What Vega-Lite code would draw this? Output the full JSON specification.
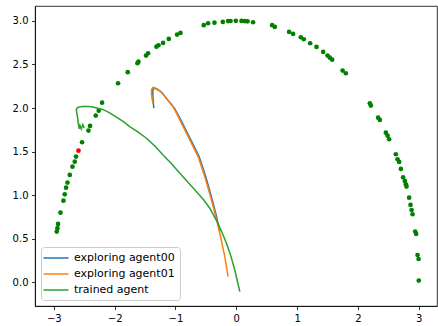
{
  "$schema": "https://vega.github.io/schema/vega-lite/v6.json",
  "width": 402,
  "height": 300,
  "autosize": {"type": "none"},
  "padding": {"left": 35, "top": 6, "right": 1, "bottom": 20},
  "background": "white",
  "config": {
    "view": {"stroke": "black", "strokeWidth": 0.8},
    "font": "DejaVu Sans",
    "axis": {
      "grid": false,
      "domainColor": "black",
      "domainWidth": 0.8,
      "tickColor": "black",
      "tickWidth": 0.8,
      "tickSize": 3.5,
      "labelFont": "DejaVu Sans",
      "labelFontSize": 10,
      "labelColor": "black",
      "labelPadding": 3.5,
      "title": null
    },
    "legend": {
      "orient": "bottom-left",
      "offset": 6,
      "title": null,
      "strokeColor": "#cccccc",
      "fillColor": "rgba(255,255,255,0.8)",
      "cornerRadius": 3,
      "padding": 5,
      "rowPadding": 5,
      "labelFont": "DejaVu Sans",
      "labelFontSize": 11,
      "labelColor": "black",
      "symbolType": "M-2.5,0H2.5",
      "symbolSize": 100,
      "symbolStrokeWidth": 1.5,
      "symbolOffset": 4,
      "labelOffset": 12
    }
  },
  "layer": [
    {
      "data": {"values": [
        {"x": -2.207, "y": 2.062}, {"x": -2.262, "y": 1.970}, {"x": -2.311, "y": 1.913},
        {"x": -2.405, "y": 1.795}, {"x": -2.431, "y": 1.741}, {"x": -2.536, "y": 1.608},
        {"x": -2.635, "y": 1.443}, {"x": -2.656, "y": 1.385}, {"x": -2.694, "y": 1.328},
        {"x": -2.738, "y": 1.233}, {"x": -2.776, "y": 1.145}, {"x": -2.799, "y": 1.087},
        {"x": -2.821, "y": 1.011}, {"x": -2.842, "y": 0.938}, {"x": -2.891, "y": 0.800},
        {"x": -2.931, "y": 0.671}, {"x": -2.941, "y": 0.622}, {"x": -2.952, "y": 0.583},
        {"x": -1.944, "y": 2.284}, {"x": -1.785, "y": 2.411}, {"x": -1.625, "y": 2.514},
        {"x": -1.609, "y": 2.532}, {"x": -1.484, "y": 2.601}, {"x": -1.451, "y": 2.628},
        {"x": -1.313, "y": 2.704}, {"x": -1.280, "y": 2.720}, {"x": -1.204, "y": 2.747},
        {"x": -1.110, "y": 2.792}, {"x": -0.974, "y": 2.842}, {"x": -0.918, "y": 2.861},
        {"x": -0.535, "y": 2.950}, {"x": -0.464, "y": 2.972}, {"x": -0.359, "y": 2.979},
        {"x": -0.222, "y": 2.987}, {"x": -0.135, "y": 2.997}, {"x": -0.095, "y": 2.998},
        {"x": -0.008, "y": 3.000}, {"x": 0.086, "y": 2.999}, {"x": 0.140, "y": 2.997},
        {"x": 0.184, "y": 2.994}, {"x": 0.276, "y": 2.984}, {"x": 0.589, "y": 2.950},
        {"x": 0.633, "y": 2.930}, {"x": 0.868, "y": 2.873}, {"x": 0.934, "y": 2.850},
        {"x": 1.061, "y": 2.812}, {"x": 1.110, "y": 2.789}, {"x": 1.214, "y": 2.743},
        {"x": 1.319, "y": 2.701}, {"x": 1.428, "y": 2.643}, {"x": 1.500, "y": 2.601},
        {"x": 1.538, "y": 2.578}, {"x": 1.576, "y": 2.555}, {"x": 1.748, "y": 2.429},
        {"x": 1.801, "y": 2.399}, {"x": 2.196, "y": 2.055}, {"x": 2.212, "y": 2.028},
        {"x": 2.332, "y": 1.890}, {"x": 2.360, "y": 1.864}, {"x": 2.459, "y": 1.718},
        {"x": 2.487, "y": 1.683}, {"x": 2.513, "y": 1.642}, {"x": 2.623, "y": 1.470},
        {"x": 2.651, "y": 1.413}, {"x": 2.678, "y": 1.382}, {"x": 2.706, "y": 1.302},
        {"x": 2.743, "y": 1.206}, {"x": 2.771, "y": 1.164}, {"x": 2.788, "y": 1.126},
        {"x": 2.799, "y": 1.099}, {"x": 2.842, "y": 0.972}, {"x": 2.865, "y": 0.889},
        {"x": 2.882, "y": 0.831}, {"x": 2.898, "y": 0.782}, {"x": 2.941, "y": 0.583},
        {"x": 2.957, "y": 0.556}, {"x": 2.980, "y": 0.315}, {"x": 2.997, "y": 0.269},
        {"x": 3.000, "y": 0.021}
      ]},
      "mark": {"type": "point", "filled": true, "opacity": 1, "size": 22, "color": "green"},
      "encoding": {
        "x": {"field": "x", "type": "quantitative", "scale": {"domain": [-3.31, 3.30], "nice": false, "zero": false}, "axis": {"values": [-3, -2, -1, 0, 1, 2, 3], "format": "d"}},
        "y": {"field": "y", "type": "quantitative", "scale": {"domain": [-0.27, 3.17], "nice": false, "zero": false}, "axis": {"values": [0, 0.5, 1, 1.5, 2, 2.5, 3], "format": ".1f"}}
      }
    },
    {
      "data": {"values": [{"x": -2.595, "y": 1.511}]},
      "mark": {"type": "point", "filled": true, "opacity": 1, "size": 22, "color": "red"},
      "encoding": {
        "x": {"field": "x", "type": "quantitative"},
        "y": {"field": "y", "type": "quantitative"}
      }
    },
    {
      "data": {"values": [
        {"s": "exploring agent00", "i": 0, "x": -1.357, "y": 1.998},
        {"s": "exploring agent00", "i": 1, "x": -1.365, "y": 2.070},
        {"s": "exploring agent00", "i": 2, "x": -1.373, "y": 2.150},
        {"s": "exploring agent00", "i": 3, "x": -1.373, "y": 2.208},
        {"s": "exploring agent00", "i": 4, "x": -1.340, "y": 2.231},
        {"s": "exploring agent00", "i": 5, "x": -1.291, "y": 2.213},
        {"s": "exploring agent00", "i": 6, "x": -1.225, "y": 2.179},
        {"s": "exploring agent00", "i": 7, "x": -1.127, "y": 2.093},
        {"s": "exploring agent00", "i": 8, "x": -1.020, "y": 2.001},
        {"s": "exploring agent00", "i": 9, "x": -0.913, "y": 1.864},
        {"s": "exploring agent00", "i": 10, "x": -0.831, "y": 1.749},
        {"s": "exploring agent00", "i": 11, "x": -0.748, "y": 1.634},
        {"s": "exploring agent00", "i": 12, "x": -0.612, "y": 1.443},
        {"s": "exploring agent00", "i": 13, "x": -0.502, "y": 1.213},
        {"s": "exploring agent00", "i": 14, "x": -0.395, "y": 0.946},
        {"s": "exploring agent00", "i": 15, "x": -0.324, "y": 0.755},
        {"s": "exploring agent00", "i": 16, "x": -0.271, "y": 0.579},
        {"s": "exploring agent01", "i": 0, "x": -1.368, "y": 2.047},
        {"s": "exploring agent01", "i": 1, "x": -1.382, "y": 2.093},
        {"s": "exploring agent01", "i": 2, "x": -1.395, "y": 2.162},
        {"s": "exploring agent01", "i": 3, "x": -1.395, "y": 2.213},
        {"s": "exploring agent01", "i": 4, "x": -1.368, "y": 2.239},
        {"s": "exploring agent01", "i": 5, "x": -1.313, "y": 2.213},
        {"s": "exploring agent01", "i": 6, "x": -1.258, "y": 2.196},
        {"s": "exploring agent01", "i": 7, "x": -1.209, "y": 2.162},
        {"s": "exploring agent01", "i": 8, "x": -1.143, "y": 2.104},
        {"s": "exploring agent01", "i": 9, "x": -1.039, "y": 2.016},
        {"s": "exploring agent01", "i": 10, "x": -0.929, "y": 1.864},
        {"s": "exploring agent01", "i": 11, "x": -0.847, "y": 1.749},
        {"s": "exploring agent01", "i": 12, "x": -0.765, "y": 1.634},
        {"s": "exploring agent01", "i": 13, "x": -0.628, "y": 1.443},
        {"s": "exploring agent01", "i": 14, "x": -0.518, "y": 1.213},
        {"s": "exploring agent01", "i": 15, "x": -0.408, "y": 0.946},
        {"s": "exploring agent01", "i": 16, "x": -0.337, "y": 0.755},
        {"s": "exploring agent01", "i": 17, "x": -0.271, "y": 0.564},
        {"s": "exploring agent01", "i": 18, "x": -0.189, "y": 0.296},
        {"s": "exploring agent01", "i": 19, "x": -0.135, "y": 0.067},
        {"s": "trained agent", "i": 0, "x": -2.500, "y": 1.770},
        {"s": "trained agent", "i": 1, "x": -2.525, "y": 1.810},
        {"s": "trained agent", "i": 2, "x": -2.549, "y": 1.760},
        {"s": "trained agent", "i": 3, "x": -2.570, "y": 1.800},
        {"s": "trained agent", "i": 4, "x": -2.582, "y": 1.760},
        {"s": "trained agent", "i": 5, "x": -2.600, "y": 1.830},
        {"s": "trained agent", "i": 6, "x": -2.607, "y": 1.875},
        {"s": "trained agent", "i": 7, "x": -2.623, "y": 1.944},
        {"s": "trained agent", "i": 8, "x": -2.632, "y": 1.984},
        {"s": "trained agent", "i": 9, "x": -2.607, "y": 2.007},
        {"s": "trained agent", "i": 10, "x": -2.541, "y": 2.018},
        {"s": "trained agent", "i": 11, "x": -2.459, "y": 2.018},
        {"s": "trained agent", "i": 12, "x": -2.377, "y": 2.015},
        {"s": "trained agent", "i": 13, "x": -2.294, "y": 2.001},
        {"s": "trained agent", "i": 14, "x": -2.196, "y": 1.984},
        {"s": "trained agent", "i": 15, "x": -2.081, "y": 1.944},
        {"s": "trained agent", "i": 16, "x": -1.965, "y": 1.892},
        {"s": "trained agent", "i": 17, "x": -1.850, "y": 1.841},
        {"s": "trained agent", "i": 18, "x": -1.752, "y": 1.787},
        {"s": "trained agent", "i": 19, "x": -1.620, "y": 1.726},
        {"s": "trained agent", "i": 20, "x": -1.477, "y": 1.654},
        {"s": "trained agent", "i": 21, "x": -1.340, "y": 1.565},
        {"s": "trained agent", "i": 22, "x": -1.204, "y": 1.462},
        {"s": "trained agent", "i": 23, "x": -1.061, "y": 1.359},
        {"s": "trained agent", "i": 24, "x": -0.929, "y": 1.252},
        {"s": "trained agent", "i": 25, "x": -0.798, "y": 1.153},
        {"s": "trained agent", "i": 26, "x": -0.655, "y": 1.041},
        {"s": "trained agent", "i": 27, "x": -0.535, "y": 0.946},
        {"s": "trained agent", "i": 28, "x": -0.436, "y": 0.851},
        {"s": "trained agent", "i": 29, "x": -0.316, "y": 0.697},
        {"s": "trained agent", "i": 30, "x": -0.238, "y": 0.579},
        {"s": "trained agent", "i": 31, "x": -0.161, "y": 0.450},
        {"s": "trained agent", "i": 32, "x": -0.090, "y": 0.304},
        {"s": "trained agent", "i": 33, "x": -0.025, "y": 0.143},
        {"s": "trained agent", "i": 34, "x": 0.058, "y": -0.106}
      ]},
      "mark": {"type": "line", "strokeWidth": 1.5},
      "encoding": {
        "x": {"field": "x", "type": "quantitative"},
        "y": {"field": "y", "type": "quantitative"},
        "order": {"field": "i", "type": "quantitative"},
        "color": {
          "field": "s", "type": "nominal",
          "scale": {"domain": ["exploring agent00", "exploring agent01", "trained agent"], "range": ["#1f77b4", "#ff7f0e", "#2ca02c"]},
          "legend": {"symbolType": "M-2.5,0H2.5"}
        }
      }
    }
  ]
}
